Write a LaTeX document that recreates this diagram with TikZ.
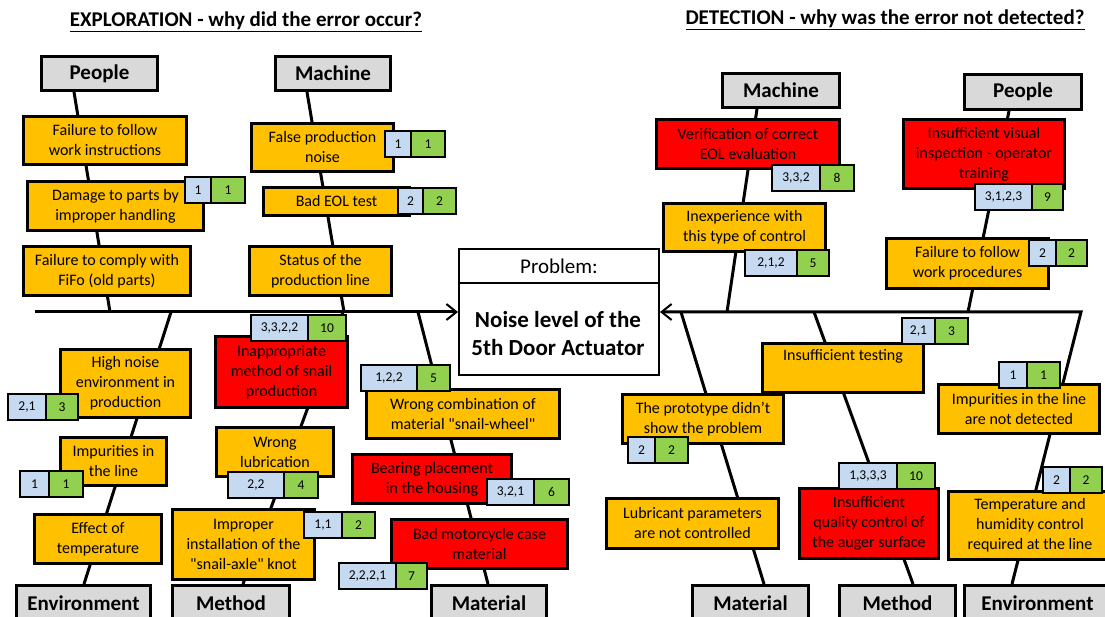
\documentclass[tikz,border=0pt]{standalone}
\usepackage{fontspec}
\setmainfont{Carlito}
\newfontfamily\plainquote{Carlito}
\usetikzlibrary{arrows.meta,positioning}

\definecolor{hdrgray}{HTML}{D9D9D9}
\definecolor{causeorange}{HTML}{FFC000}
\definecolor{causered}{HTML}{FF0000}
\definecolor{rpnblue}{HTML}{C5D9F1}
\definecolor{occgreen}{HTML}{92D050}

\tikzset{
  wh/.style 2 args={minimum width=#1pt, minimum height=#2pt},
  heading/.style={font=\fontsize{21}{25}\selectfont\bfseries},
  hdr/.style={draw, line width=3pt, fill=hdrgray, inner sep=0pt, anchor=north west, font=\fontsize{21}{25}\selectfont\bfseries},
  cause/.style={draw, line width=3pt, fill=causeorange, inner sep=0pt, align=center, anchor=north west, font=\fontsize{16}{20}\selectfont},
  crit/.style={cause, fill=causered},
  rpn/.style={draw, line width=2.5pt, fill=rpnblue, inner sep=0pt, outer sep=0pt, minimum height=26pt, anchor=north west, font=\fontsize{13.5}{16}\selectfont},
  occ/.style={rpn, fill=occgreen},
  bone/.style={line width=3pt},
  spine/.style={line width=3pt, -{Straight Barb[length=10pt,width=16pt,line width=2pt]}}
}

\begin{document}
\begin{tikzpicture}[x=1pt,y=-1pt]
\useasboundingbox (0,0) rectangle (1105,617);
\clip (0,0) rectangle (1105,617);

% titles
\node[heading] (tExpl) at (246,22) {\underline{EXPLORATION - why did the error occur?}};
\node[heading] (tDet) at (885,20) {\underline{DETECTION - why was the error not detected?}};

% category headers
\node[hdr, wh={116}{34}] (hPeopleL) at (40,55) {People};
\node[hdr, wh={115}{34}] (hMachineL) at (274,55) {Machine};
\node[hdr, wh={134}{36}] (hEnvL) at (15,584) {Environment};
\node[hdr, wh={117}{36}] (hMethodL) at (171,584) {Method};
\node[hdr, wh={115}{36}] (hMaterialL) at (430,584) {Material};
\node[hdr, wh={117}{34}] (hMachineR) at (721,72) {Machine};
\node[hdr, wh={117}{35}] (hPeopleR) at (963,73) {People};
\node[hdr, wh={116}{36}] (hMaterialR) at (691,584) {Material};
\node[hdr, wh={116}{36}] (hMethodR) at (838,584) {Method};
\node[hdr, wh={146}{36}] (hEnvR) at (963,584) {Environment};

% problem
\node[draw, line width=2pt, fill=white, anchor=north west, wh={200}{34}, font=\fontsize{21}{25}\selectfont] (probHead) at (458,248) {Problem:};
\node[draw, line width=2pt, fill=white, anchor=north west, wh={200}{92}] (probBody) at (458,282) {};
\node[align=center, font=\fontsize{23}{28}\selectfont\bfseries] (probText) at (558,334) {Noise level of the\\5th Door Actuator};

% spines
\coordinate (sL) at (35,312);
\coordinate (jPeopleL) at (110,312);
\coordinate (jMachineL) at (344,312);
\coordinate (jEnvL) at (171,312);
\coordinate (jMethodL) at (343,312);
\coordinate (jMaterialL) at (418,312);
\coordinate (jMachineR) at (727,312);
\coordinate (jPeopleR) at (968,312);
\coordinate (jMaterialR) at (681,312);
\coordinate (jMethodR) at (814,312);
\coordinate (jEnvR) at (1081,312);

\draw[spine] (sL) -- (sL -| probBody.west);
\draw[spine] ([xshift=49pt]hEnvR.north west) -- (jEnvR) -- (jEnvR -| probBody.east);

% bones
\draw[bone] ([xshift=34pt]hPeopleL.south west) -- (jPeopleL);
\draw[bone] ([xshift=33pt]hMachineL.south west) -- (jMachineL);
\draw[bone] ([xshift=69pt]hEnvL.north west) -- (jEnvL);
\draw[bone] ([xshift=72pt]hMethodL.north west) -- (jMethodL);
\draw[bone] ([xshift=58pt]hMaterialL.north west) -- (jMaterialL);
\draw[bone] ([xshift=36pt]hMachineR.south west) -- (jMachineR);
\draw[bone] ([xshift=46pt]hPeopleR.south west) -- (jPeopleR);
\draw[bone] ([xshift=73pt]hMaterialR.north west) -- (jMaterialR);
\draw[bone] ([xshift=75pt]hMethodR.north west) -- (jMethodR);

% exploration - people
\node[cause, wh={163}{48}] (cPL1) at (22,115) {Failure to follow\\work instructions};
\node[cause, wh={176}{49}] (cPL2) at (26,180) {Damage to parts by\\improper handling};
\node[cause, wh={167}{49}] (cPL3) at (22,245) {Failure to comply with\\FiFo (old parts)};
\node[rpn, minimum width=26pt] (rPL2) at (185,177) {1};
\node[occ, minimum width=34pt, right=0pt of rPL2] (oPL2) {1};

% exploration - machine
\node[cause, wh={142}{48}] (cML1) at (250,122) {False production\\noise};
\node[cause, wh={146}{28}] (cML2) at (262,186) {Bad EOL test};
\node[cause, wh={142}{49}] (cML3) at (248,245) {Status of the\\production line};
\node[rpn, minimum width=26pt] (rML1) at (385,131) {1};
\node[occ, minimum width=34pt, right=0pt of rML1] (oML1) {1};
\node[rpn, minimum width=25pt] (rML2) at (398,188) {2};
\node[occ, minimum width=33pt, right=0pt of rML2] (oML2) {2};

% exploration - environment
\node[cause, wh={130}{68}] (cEL1) at (59,348) {High noise\\environment in\\production};
\node[cause, wh={106}{48}] (cEL2) at (59,436) {Impurities in\\the line};
\node[cause, wh={127}{49}] (cEL3) at (33,513) {Effect of\\temperature};
\node[rpn, minimum width=38pt] (rEL1) at (8,394) {2,1};
\node[occ, minimum width=32pt, right=0pt of rEL1] (oEL1) {3};
\node[rpn, minimum width=29pt] (rEL2) at (20,471) {1};
\node[occ, minimum width=34pt, right=0pt of rEL2] (oEL2) {1};

% exploration - method
\node[crit, wh={132}{71}] (cMeL1) at (214,335) {Inappropriate\\method of snail\\production};
\node[cause, wh={117}{49}] (cMeL2) at (215,426) {Wrong\\lubrication};
\node[cause, wh={142}{70}] (cMeL3) at (171,508) {Improper\\installation of the\\{\plainquote"snail-axle"} knot};
\node[rpn, minimum width=57pt] (rMeL1) at (251,315) {3,3,2,2};
\node[occ, minimum width=38pt, right=0pt of rMeL1] (oMeL1) {10};
\node[rpn, minimum width=56pt] (rMeL2) at (228,472) {2,2};
\node[occ, minimum width=34pt, right=0pt of rMeL2] (oMeL2) {4};
\node[rpn, minimum width=38pt] (rMeL3) at (304,512) {1,1};
\node[occ, minimum width=33pt, right=0pt of rMeL3] (oMeL3) {2};

% exploration - material
\node[cause, wh={193}{49}] (cMaL1) at (365,388) {Wrong combination of\\material {\plainquote"snail-wheel"}};
\node[crit, wh={159}{49}] (cMaL2) at (351,453) {Bearing placement\\in the housing};
\node[crit, wh={176}{49}] (cMaL3) at (390,518) {Bad motorcycle case\\material};
\node[rpn, minimum width=56pt] (rMaL1) at (361,365) {1,2,2};
\node[occ, minimum width=33pt, right=0pt of rMaL1] (oMaL1) {5};
\node[rpn, minimum width=47pt] (rMaL2) at (487,479) {3,2,1};
\node[occ, minimum width=35pt, right=0pt of rMaL2] (oMaL2) {6};
\node[rpn, minimum width=57pt] (rMaL3) at (339,563) {2,2,2,1};
\node[occ, minimum width=31pt, right=0pt of rMaL3] (oMaL3) {7};

% detection - machine
\node[crit, wh={183}{49}] (cMR1) at (655,118) {Verification of correct\\EOL evaluation};
\node[cause, wh={162}{48}] (cMR2) at (662,202) {Inexperience with\\this type of control};
\node[rpn, minimum width=48pt] (rMR1) at (772,165) {3,3,2};
\node[occ, minimum width=34pt, right=0pt of rMR1] (oMR1) {8};
\node[rpn, minimum width=52pt] (rMR2) at (745,250) {2,1,2};
\node[occ, minimum width=32pt, right=0pt of rMR2] (oMR2) {5};

% detection - people
\node[crit, wh={161}{69}] (cPR1) at (902,118) {Insufficient visual\\inspection - operator\\training};
\node[cause, wh={162}{50}] (cPR2) at (885,237) {Failure to follow\\work procedures};
\node[rpn, minimum width=57pt] (rPR1) at (975,184) {3,1,2,3};
\node[occ, minimum width=31pt, right=0pt of rPR1] (oPR1) {9};
\node[rpn, minimum width=27pt] (rPR2) at (1029,240) {2};
\node[occ, minimum width=31pt, right=0pt of rPR2] (oPR2) {2};

% detection - material
\node[cause, wh={161}{49}] (cMaR1) at (621,393) {The prototype didn't\\show the problem};
\node[cause, wh={172}{50}] (cMaR2) at (605,497) {Lubricant parameters\\are not controlled};
\node[rpn, minimum width=27pt] (rMaR1) at (628,437) {2};
\node[occ, minimum width=33pt, right=0pt of rMaR1] (oMaR1) {2};

% detection - method
\node[cause, wh={161}{49}] (cMeR1) at (761,342) {Insufficient testing\\\strut};
\node[crit, wh={139}{70}] (cMeR2) at (798,487) {Insufficient\\quality control of\\the auger surface};
\node[rpn, minimum width=33pt] (rMeR1) at (902,318) {2,1};
\node[occ, minimum width=33pt, right=0pt of rMeR1] (oMeR1) {3};
\node[rpn, minimum width=58pt] (rMeR2) at (839,463) {1,3,3,3};
\node[occ, minimum width=38pt, right=0pt of rMeR2] (oMeR2) {10};

% detection - environment
\node[cause, wh={161}{49}] (cER1) at (937,383) {Impurities in the line\\are not detected};
\node[cause, wh={163}{68}] (cER2) at (947,490) {Temperature and\\humidity control\\required at the line};
\node[rpn, minimum width=28pt] (rER1) at (999,362) {1};
\node[occ, minimum width=33pt, right=0pt of rER1] (oER1) {1};
\node[rpn, minimum width=27pt] (rER2) at (1043,467) {2};
\node[occ, minimum width=32pt, right=0pt of rER2] (oER2) {2};
\end{tikzpicture}
\end{document}
